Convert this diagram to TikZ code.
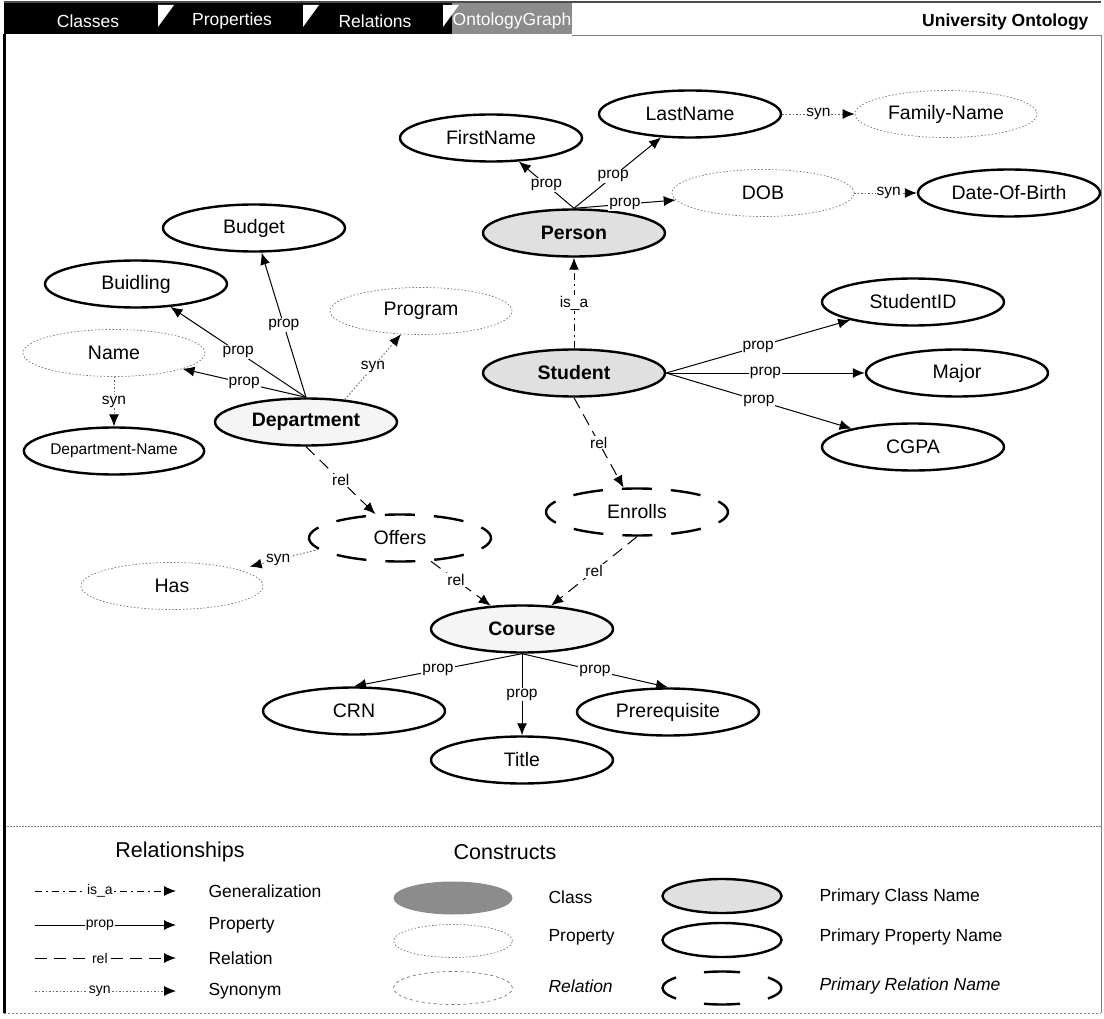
\documentclass[tikz,border=0pt]{standalone}
\usepackage{fontspec}
\setmainfont{Liberation Sans}
\usetikzlibrary{shapes.geometric,arrows.meta}

\newcommand\nodetxt{\fontsize{19.5}{22}\selectfont}
\newcommand\edgetxt{\fontsize{15.5}{17}\selectfont}
\newcommand\legtxt{\fontsize{17.5}{20}\selectfont}
\newcommand\headtxt{\fontsize{21.5}{24}\selectfont}

\begin{document}
\begin{tikzpicture}[x=1pt,y=-1pt,
  every node/.style={font=\nodetxt},
  base/.style={ellipse,minimum width=182pt,minimum height=47pt,inner sep=0pt},
  propnode/.style={base,draw,line width=2.4pt},
  classnode/.style={propnode,fill=black!12,font=\nodetxt\bfseries},
  relnode/.style={base,draw,line width=2.4pt,dash pattern=on 30pt off 19pt,dash phase=15pt},
  synnode/.style={base,draw=black!55,line width=0.7pt,dash pattern=on 1.5pt off 2pt},
  propline/.style={-{Latex[length=12pt,width=10pt]},line width=1pt},
  relline/.style={propline,dash pattern=on 12pt off 7pt},
  synline/.style={-{Latex[length=12pt,width=10pt,color=black]},line width=0.9pt,draw=black!60,dash pattern=on 1.5pt off 2pt},
  isaline/.style={propline,dash pattern=on 7pt off 4pt on 2pt off 4pt},
  lbl/.style={font=\edgetxt,fill=white,inner sep=1pt,midway}]
  \useasboundingbox (0,0) rectangle (1104,1019);

  % tab bar
  \fill (4,2) rectangle (452,34);
  \fill[black!45] (452,2) rectangle (572,34);
  \foreach \x in {158,303,443} \fill[white] (\x,5) -- (\x+16,5) -- (\x,27) -- cycle;
  \draw[black!70,line width=1.5pt] (4,2) -- (1101,2);
  \node[text=white,font=\legtxt] (tabclasses) at (88,21) {Classes};
  \node[text=white,font=\legtxt] (tabprops) at (232,21) {Properties};
  \node[text=white,font=\legtxt] (tabrels) at (375,21) {Relations};
  \node[text=white,font=\legtxt] (tabgraph) at (512,21) {OntologyGraph};
  \node[font=\legtxt\bfseries,anchor=east] (tabtitle) at (1092,22) {University Ontology};

  % frame
  \draw[black!50,line width=0.6pt] (572,35) -- (1101,35) -- (1101,1013);
  \draw[black!50,dash pattern=on 2pt off 1pt] (4,826) -- (1101,826);
  \draw[black!50,dash pattern=on 2pt off 2pt] (4,1013) -- (1101,1013);
  \draw[line width=3pt] (4,34) -- (4,1013);

  % nodes
  \node[classnode] (person) at (574,233) {Person};
  \node[propnode] (firstname) at (491,138) {FirstName};
  \node[propnode] (lastname) at (690,114) {LastName};
  \node[synnode] (familyname) at (946,114) {Family-Name};
  \node[synnode] (dob) at (763,193) {DOB};
  \node[propnode] (dateofbirth) at (1009,193) {Date-Of-Birth};
  \node[propnode] (budget) at (254,228) {Budget};
  \node[propnode] (buidling) at (136,284) {Buidling};
  \node[synnode] (program) at (421,311) {Program};
  \node[synnode] (name) at (114,353) {Name};
  \node[propnode,minimum width=175pt,font=\fontsize{15.5}{17}\selectfont] (deptname) at (114,451) {Department-Name};
  \node[classnode,fill=black!4] (department) at (306,422) {Department};
  \node[classnode] (student) at (574,373) {Student};
  \node[propnode] (studentid) at (913,302) {StudentID};
  \node[propnode] (major) at (957,373) {Major};
  \node[propnode] (cgpa) at (913,447) {CGPA};
  \node[relnode] (enrolls) at (637,512) {Enrolls};
  \node[relnode] (offers) at (400,538) {Offers};
  \node[synnode] (has) at (172,586) {Has};
  \node[classnode,fill=black!4] (course) at (522,629) {Course};
  \node[propnode] (crn) at (354,711) {CRN};
  \node[propnode] (prereq) at (668,712) {Prerequisite};
  \node[propnode] (title) at (522,760) {Title};

  % connectors
  \draw[propline] (person.north) -- node[lbl] {prop} (firstname);
  \draw[propline] (person.north) -- node[lbl,pos=.45] {prop} (lastname);
  \draw[propline] (person.north) -- node[lbl] {prop} (dob);
  \draw[synline] (lastname.east) -- node[lbl] {syn} (familyname.west);
  \draw[synline] (dob.east) -- node[lbl,pos=.55] {syn} (dateofbirth.west);
  \draw[isaline] (student.north) -- node[lbl] {is\_a} (person.south);
  \draw[propline] (student.east) -- node[lbl] {prop} (studentid);
  \draw[propline] (student.east) -- node[lbl] {prop} (major.west);
  \draw[propline] (student.east) -- node[lbl] {prop} (cgpa);
  \draw[relline] (student.south) -- node[lbl] {rel} (enrolls);
  \draw[propline] (department.north) -- node[lbl] {prop} (budget);
  \draw[propline] (department.north) -- node[lbl] {prop} (buidling);
  \draw[propline] (department.north) -- node[lbl] {prop} (name);
  \draw[synline] (department.30) -- node[lbl] {syn} (program);
  \draw[synline] (name.south) -- node[lbl] {syn} (deptname.north);
  \draw[relline] (department.south) -- node[lbl] {rel} (offers);
  \draw[synline,shorten >=12pt] (offers.188) -- node[lbl] {syn} (has);
  \draw[relline] (offers.-37) -- node[lbl,pos=.42] {rel} (course);
  \draw[relline] (enrolls.south) -- node[lbl] {rel} (course);
  \draw[propline] (course.south) -- node[lbl] {prop} (crn.north);
  \draw[propline] (course.south) -- node[lbl] {prop} (title.north);
  \draw[propline] (course.south) -- node[lbl] {prop} (prereq.north);

  % legend
  \node[font=\headtxt] (relhead) at (180,852) {Relationships};
  \node[font=\headtxt] (conhead) at (505,852) {Constructs};
  \foreach \y/\st/\lb/\nm in {891/isaline/is\_a/Generalization,925/propline/prop/Property,
      958/relline/rel/Relation,991/synline/syn/Synonym} {
    \coordinate (legl\y) at (35,\y);
    \coordinate (legr\y) at (176,\y);
    \draw[\st] (legl\y) -- node[lbl,pos=.46,font=\fontsize{14}{16}\selectfont] (legmark\y) {\lb} (legr\y);
    \node[anchor=west,font=\legtxt] (legtext\y) at (205,\y) {\nm};
  }
  \node[ellipse,fill=black!45,minimum width=119pt,minimum height=33pt] (kclass) at (453,898) {};
  \node[ellipse,draw=black!55,line width=0.7pt,dash pattern=on 1.5pt off 2pt,minimum width=119pt,minimum height=33pt] (kprop) at (453,941) {};
  \node[ellipse,draw=black!55,line width=0.7pt,dash pattern=on 3pt off 3pt,minimum width=119pt,minimum height=33pt] (krel) at (453,988) {};
  \node[anchor=west,font=\legtxt] (tclass) at (545,897) {Class};
  \node[anchor=west,font=\legtxt] (tprop) at (545,937) {Property};
  \node[anchor=west,font=\legtxt\itshape] (trel) at (545,986) {Relation};
  \node[ellipse,draw,line width=2.4pt,fill=black!12,minimum width=119pt,minimum height=34pt] (pclass) at (722,896) {};
  \node[ellipse,draw,line width=2.4pt,minimum width=119pt,minimum height=34pt] (pprop) at (722,940) {};
  \node[ellipse,draw,line width=2.4pt,dash pattern=on 36pt off 28.5pt,dash phase=18pt,minimum width=119pt,minimum height=33pt] (prel) at (722,988) {};
  \node[anchor=west,font=\legtxt] (tpclass) at (816,897) {Primary Class Name};
  \node[anchor=west,font=\legtxt] (tpprop) at (816,937) {Primary Property Name};
  \node[anchor=west,font=\legtxt\itshape] (tprel) at (816,986) {Primary Relation Name};
\end{tikzpicture}
\end{document}
